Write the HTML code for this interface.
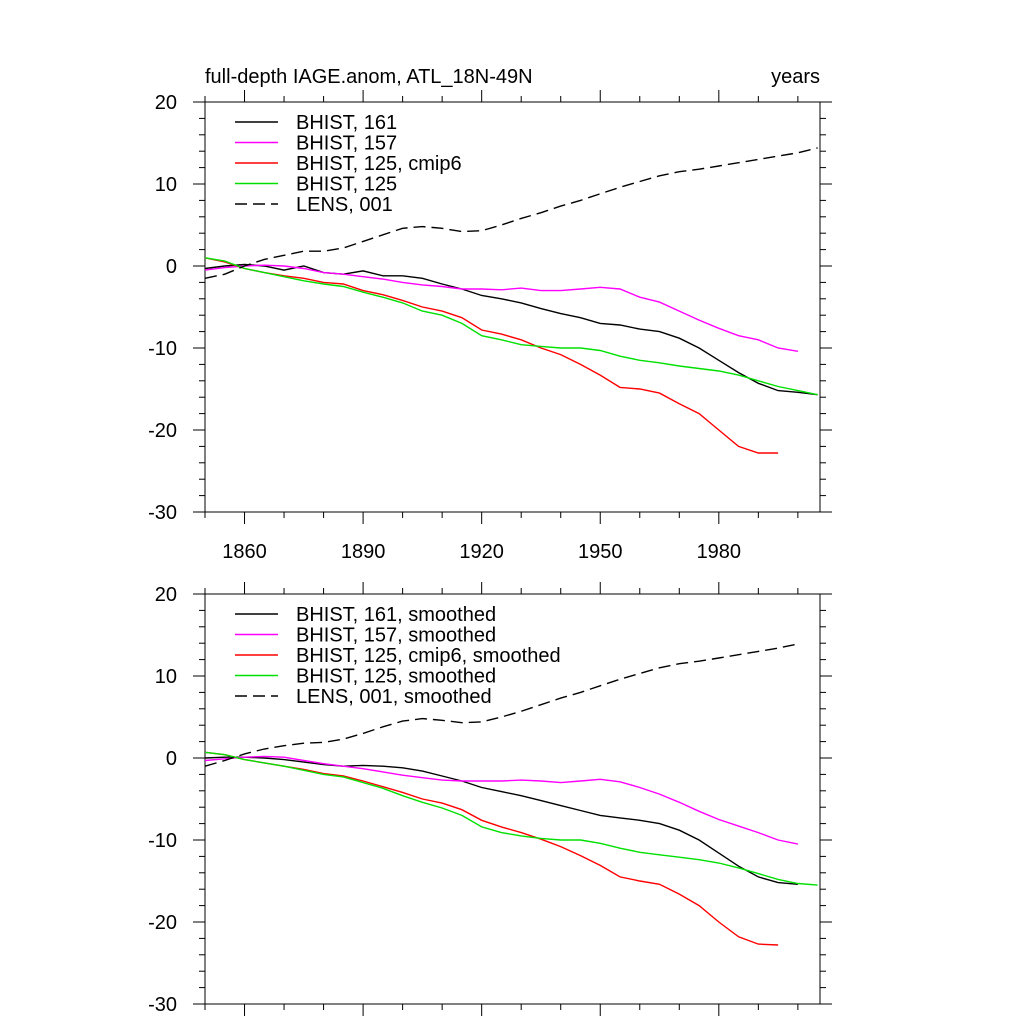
<!DOCTYPE html>
<html><head><meta charset="utf-8"><style>
body{margin:0;background:#fff}
svg{display:block;font-family:"Liberation Sans",sans-serif}
</style></head><body>
<svg id="c" width="1024" height="1024"></svg>
<script>
const years = [1850,1855,1860,1865,1870,1875,1880,1885,1890,1895,1900,1905,1910,1915,1920,1925,1930,1935,1940,1945,1950,1955,1960,1965,1970,1975,1980,1985,1990,1995,2000,2005];
const black161 = [-0.3,0,0.2,0,-0.5,0,-0.8,-1.0,-0.6,-1.2,-1.2,-1.5,-2.2,-2.8,-3.6,-4.0,-4.5,-5.2,-5.8,-6.3,-7.0,-7.2,-7.7,-8.0,-8.8,-10.0,-11.5,-13.0,-14.3,-15.2,-15.4,-15.7];
const mag157 = [-0.5,-0.2,0,0.1,0,-0.3,-0.8,-1.0,-1.3,-1.6,-2.0,-2.3,-2.5,-2.8,-2.8,-2.9,-2.7,-3.0,-3.0,-2.8,-2.6,-2.8,-3.8,-4.4,-5.5,-6.6,-7.6,-8.5,-9.0,-10.0,-10.4,null];
const red125 = [1.0,0.5,-0.3,-0.8,-1.2,-1.5,-2.0,-2.2,-3.0,-3.5,-4.2,-5.0,-5.5,-6.3,-7.8,-8.3,-9.0,-10.0,-10.8,-12.0,-13.3,-14.8,-15.0,-15.5,-16.8,-18.0,-20.0,-22.0,-22.8,-22.8,null,null];
const green125 = [1.0,0.6,-0.3,-0.8,-1.3,-1.8,-2.2,-2.5,-3.2,-3.8,-4.5,-5.5,-6.0,-7.0,-8.5,-9.0,-9.6,-9.8,-10.0,-10.0,-10.3,-11.0,-11.5,-11.8,-12.2,-12.5,-12.8,-13.3,-14.0,-14.7,-15.2,-15.7];
const lens001 = [-1.5,-1.0,0,0.8,1.3,1.8,1.8,2.2,3.0,3.8,4.6,4.8,4.6,4.2,4.3,5.0,5.8,6.5,7.3,8.0,8.8,9.6,10.3,11.0,11.5,11.8,12.2,12.6,13.0,13.4,13.8,14.4];
const sBlack = [0,0.1,0.1,0,-0.2,-0.5,-0.8,-1.0,-0.9,-1.0,-1.2,-1.6,-2.2,-2.8,-3.6,-4.1,-4.6,-5.2,-5.8,-6.4,-7.0,-7.3,-7.6,-8.0,-8.8,-10.0,-11.6,-13.2,-14.5,-15.2,-15.4,null];
const sMag = [-0.3,-0.1,0.1,0.2,0.1,-0.3,-0.7,-1.0,-1.3,-1.7,-2.1,-2.4,-2.7,-2.8,-2.8,-2.8,-2.7,-2.8,-3.0,-2.8,-2.6,-2.9,-3.6,-4.4,-5.4,-6.5,-7.5,-8.3,-9.1,-10.0,-10.5,null];
const sRed = [0.7,0.4,-0.2,-0.6,-1.0,-1.4,-1.9,-2.2,-2.8,-3.5,-4.2,-5.0,-5.5,-6.3,-7.6,-8.4,-9.1,-9.9,-10.8,-11.9,-13.1,-14.5,-15.0,-15.4,-16.6,-18.0,-20.0,-21.8,-22.7,-22.8,null,null];
const sGreen = [0.7,0.4,-0.2,-0.6,-1.0,-1.5,-2.0,-2.3,-3.0,-3.7,-4.6,-5.4,-6.1,-7.0,-8.4,-9.1,-9.5,-9.8,-10.0,-10.0,-10.4,-11.0,-11.5,-11.8,-12.1,-12.4,-12.8,-13.4,-14.1,-14.8,-15.3,-15.5];
const sLens = [-1.0,-0.3,0.5,1.1,1.5,1.8,1.9,2.3,3.0,3.8,4.5,4.8,4.6,4.3,4.4,5.0,5.7,6.5,7.3,8.0,8.8,9.6,10.3,11.0,11.5,11.8,12.2,12.6,13.0,13.4,13.9,null];
const xTickLabels = [1860,1890,1920,1950,1980];
const yTickLabels = [20,10,0,-10,-20,-30];
const legendTop = ["BHIST, 161","BHIST, 157","BHIST, 125, cmip6","BHIST, 125","LENS, 001"];
const legendBot = ["BHIST, 161, smoothed","BHIST, 157, smoothed","BHIST, 125, cmip6, smoothed","BHIST, 125, smoothed","LENS, 001, smoothed"];
const colors = ["#000","#ff00ff","#ff0000","#00e000","#000"];

const svg = document.getElementById('c');
const NS = 'http://www.w3.org/2000/svg';
const X0=205,X1=820,XMIN=1850,XMAX=2005.6;
function xs(v){return X0+(v-XMIN)/(XMAX-XMIN)*(X1-X0);}
function mk(tag,attrs,parent){const e=document.createElementNS(NS,tag);for(const k in attrs)e.setAttribute(k,attrs[k]);(parent||svg).appendChild(e);return e;}

function panel(top,name,series,legend,showX){
  const bot=top+410;
  const ys=v=>top+(20-v)/50*410;
  const g=mk('g',{});
  
  
  const fr=mk('rect',{x:X0,y:top,width:X1-X0,height:bot-top,fill:'none',stroke:'#000','stroke-width':1},g);
  
  
  for(let y=1850;y<=2005;y+=10){
    const x=xs(y);const major=(y-1860)%30===0;const L=major?12:6;
    mk('line',{x1:x,x2:x,y1:top,y2:top-L,stroke:'#000'},g);
    mk('line',{x1:x,x2:x,y1:bot,y2:bot+L,stroke:'#000'},g);
  }
  for(let v=-30;v<=20;v+=2){
    const y=ys(v);const major=v%10===0;const L=major?12:6;
    mk('line',{x1:X0,x2:X0-L,y1:y,y2:y,stroke:'#000'},g);
    mk('line',{x1:X1,x2:X1+L,y1:y,y2:y,stroke:'#000'},g);
  }
  yTickLabels.forEach(v=>{
    const t=mk('text',{x:177,y:ys(v)+7,'text-anchor':'end','font-size':20},g);t.textContent=v;
    
    
  });
  if(showX) xTickLabels.forEach(v=>{
    const t=mk('text',{x:xs(v),y:bot+46,'text-anchor':'middle','font-size':20},g);t.textContent=v;
    
    
  });
  series.forEach((arr,i)=>{
    let d='';let pen=false;
    arr.forEach((v,j)=>{if(v===null){pen=false;return;}d+=(pen?'L':'M')+xs(years[j]).toFixed(1)+' '+ys(v).toFixed(1);pen=true;});
    const p=mk('path',{d:d,fill:'none',stroke:colors[i],'stroke-width':1.4},g);
    if(i===4)p.setAttribute('stroke-dasharray','12 6');
    
    
  });
  legend.forEach((s,i)=>{
    const y=top+20+i*20.5;
    const l=mk('line',{x1:235,x2:278,y1:y,y2:y,stroke:colors[i],'stroke-width':1.4},g);
    if(i===4)l.setAttribute('stroke-dasharray','12 6');
    
    
    const t=mk('text',{x:296,y:y+7,'font-size':20},g);t.textContent=s;
    
    
  });
}
const t1=mk('text',{x:205,y:83,'font-size':20});t1.textContent='full-depth IAGE.anom, ATL_18N-49N';


const t2=mk('text',{x:820,y:83,'font-size':20,'text-anchor':'end'});t2.textContent='years';


panel(102,'top-panel',[black161,mag157,red125,green125,lens001],legendTop,true);
panel(594,'bottom-panel',[sBlack,sMag,sRed,sGreen,sLens],legendBot,false);
</script>
</body></html>
